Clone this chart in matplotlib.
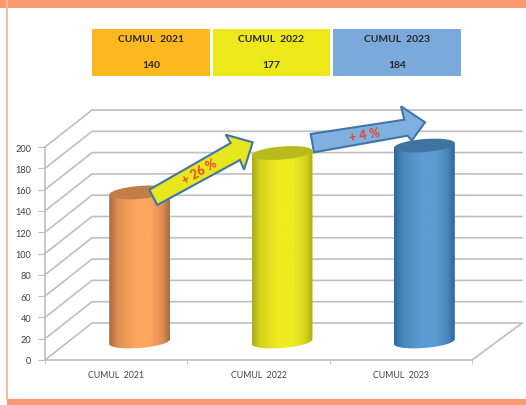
import numpy as np
import matplotlib
matplotlib.use('Agg')
import matplotlib.pyplot as plt
from matplotlib.colors import LinearSegmentedColormap
from matplotlib.patches import Polygon, Rectangle

plt.rcParams['font.family'] = ['Lato', 'DejaVu Sans']

categories = ['CUMUL  2021', 'CUMUL  2022', 'CUMUL  2023']
values = [140, 177, 184]
y_ticks = [0, 20, 40, 60, 80, 100, 120, 140, 160, 180, 200]
header_text = ['140', '177', '184']
growth_labels = ['+ 26 %', '+ 4 %']

# dark edge, mid, light centre, top cap
bar_colors = [('#a56c3c', '#e08f52', '#fca660', '#c17f48'),
              ('#a9ad18', '#d6d41c', '#efeb1f', '#b9bb1c'),
              ('#2c689c', '#4a86bd', '#5c9bd4', '#40739f')]
header_colors = ['#fdb820', '#ece81a', '#7ba9dc']
grid_col = '#bfbfbf'
band_col = '#fa9a6e'
txt_col = '#404040'

W, H = 526, 406
fig = plt.figure(figsize=(W / 100, H / 100), dpi=100, facecolor='white')

# chart axes: front plane of the fake 3d box
ax = fig.add_axes([45 / W, (H - 361) / H, 427 / W, 213 / H], facecolor='none')
ax.set_xlim(0, 3)
ax.set_ylim(0, 200)
depth_x = 47 / 142.3
depth_y = 37 / 1.065
back_end = 477 / 142.3

# back wall and side wall lines
for v in y_ticks:
    ax.plot([0, depth_x, back_end], [v, v + depth_y, v + depth_y],
            color=grid_col, lw=1.2, clip_on=False, zorder=1)
ax.plot([3, back_end], [0, depth_y], color=grid_col, lw=1.2, clip_on=False, zorder=1)

# cylinders sit half way into the box
half_w = 0.214
ell_h = 6.1
tilt = 2.2
t = np.linspace(0, 2 * np.pi, 120)
t_low = np.linspace(np.pi, 2 * np.pi, 60)

for i, val in enumerate(values):
    cx = i + 0.5 + depth_x / 2
    base = depth_y / 2
    top = val + depth_y / 2
    dark, mid, light, cap = bar_colors[i]

    low_x = cx + half_w * np.cos(t_low)
    low_y = base + ell_h * np.sin(t_low) + tilt * np.cos(t_low)
    body = np.column_stack([np.r_[low_x, cx + half_w, cx - half_w],
                            np.r_[low_y, top + tilt, top - tilt]])
    patch = Polygon(body, closed=True, facecolor='none', edgecolor='none',
                    clip_on=False, zorder=2)
    ax.add_patch(patch)

    cmap = LinearSegmentedColormap.from_list(
        'c%d' % i, [(0, dark), (0.14, mid), (0.45, light), (0.68, light), (0.88, mid), (1, dark)])
    grad = np.linspace(0, 1, 200).reshape(1, -1)
    im = ax.imshow(grad, cmap=cmap, aspect='auto', zorder=3,
                   extent=(cx - half_w, cx + half_w, base - ell_h - tilt, top + tilt))
    im.set_clip_box(fig.bbox)
    im.set_clip_path(patch)

    cap_xy = np.column_stack([cx + half_w * np.cos(t),
                              top + ell_h * np.sin(t) + tilt * np.cos(t)])
    ax.add_patch(Polygon(cap_xy, closed=True, facecolor=cap, edgecolor='none',
                         clip_on=False, zorder=4))

ax.set_xlim(0, 3)
ax.set_ylim(0, 200)

ax.set_xticks([0, 1, 2, 3], minor=True)
ax.set_xticks([0.5, 1.5, 2.5])
ax.set_xticklabels(categories)
ax.set_yticks(y_ticks)
ax.tick_params(axis='x', which='major', length=0, pad=7, labelsize=6.3, labelcolor=txt_col)
ax.tick_params(axis='x', which='minor', length=3, color=grid_col)
ax.tick_params(axis='y', length=5, pad=5, color=grid_col, labelsize=6.6, labelcolor=txt_col)
for s in ['top', 'right']:
    ax.spines[s].set_visible(False)
for s in ['left', 'bottom']:
    ax.spines[s].set_color(grid_col)
    ax.spines[s].set_linewidth(1.2)

# overlay in picture pixels for the frame, header boxes and arrows
top_ax = fig.add_axes([0, 0, 1, 1], facecolor='none', zorder=5)
top_ax.set_xlim(0, W)
top_ax.set_ylim(H, 0)
top_ax.axis('off')

top_ax.add_patch(Rectangle((0, 0), W, 8.7, color=band_col, lw=0))
top_ax.add_patch(Rectangle((7, 400), W - 7, 6, color=band_col, lw=0))
top_ax.add_patch(Rectangle((6, 0), 2, 400, color='#fbb89c', lw=0))

box_edges = [(92, 210), (213, 330), (333, 461)]
for (x0, x1), c, cat, num in zip(box_edges, header_colors, categories, header_text):
    top_ax.add_patch(Rectangle((x0, 29.5), x1 - x0, 47.2, color=c, lw=0))
    xm = (x0 + x1) / 2
    top_ax.text(xm, 40, cat, ha='center', va='center', fontsize=7.4,
                fontweight='bold', color='#262626')
    top_ax.text(xm, 65.5, num, ha='center', va='center', fontsize=7.4,
                fontweight='bold', color='#262626')

arrow_1 = [(149.3, 190.7), (230.7, 144), (225.7, 135.7), (252.7, 143.3),
           (244, 170.7), (240, 161), (157.3, 206)]
arrow_2 = [(310.7, 135), (404.3, 120.7), (401, 107.3), (425, 123.3),
           (411.7, 141.7), (407.7, 136.7), (314, 153.3)]
top_ax.add_patch(Polygon(arrow_1, closed=True, facecolor='#e8e61f', edgecolor='#3f76a8', lw=1.5))
top_ax.add_patch(Polygon(arrow_2, closed=True, facecolor='#7fb0e0', edgecolor='#3f76a8', lw=1.5))
top_ax.text(200, 172, growth_labels[0], color='#e8432a', fontsize=9, fontweight='bold',
            rotation=30, ha='center', va='center', rotation_mode='anchor')
top_ax.text(365, 135, growth_labels[1], color='#e8432a', fontsize=9, fontweight='bold',
            rotation=10, ha='center', va='center', rotation_mode='anchor')

fig.savefig('out.png', dpi=100)
plt.close(fig)
